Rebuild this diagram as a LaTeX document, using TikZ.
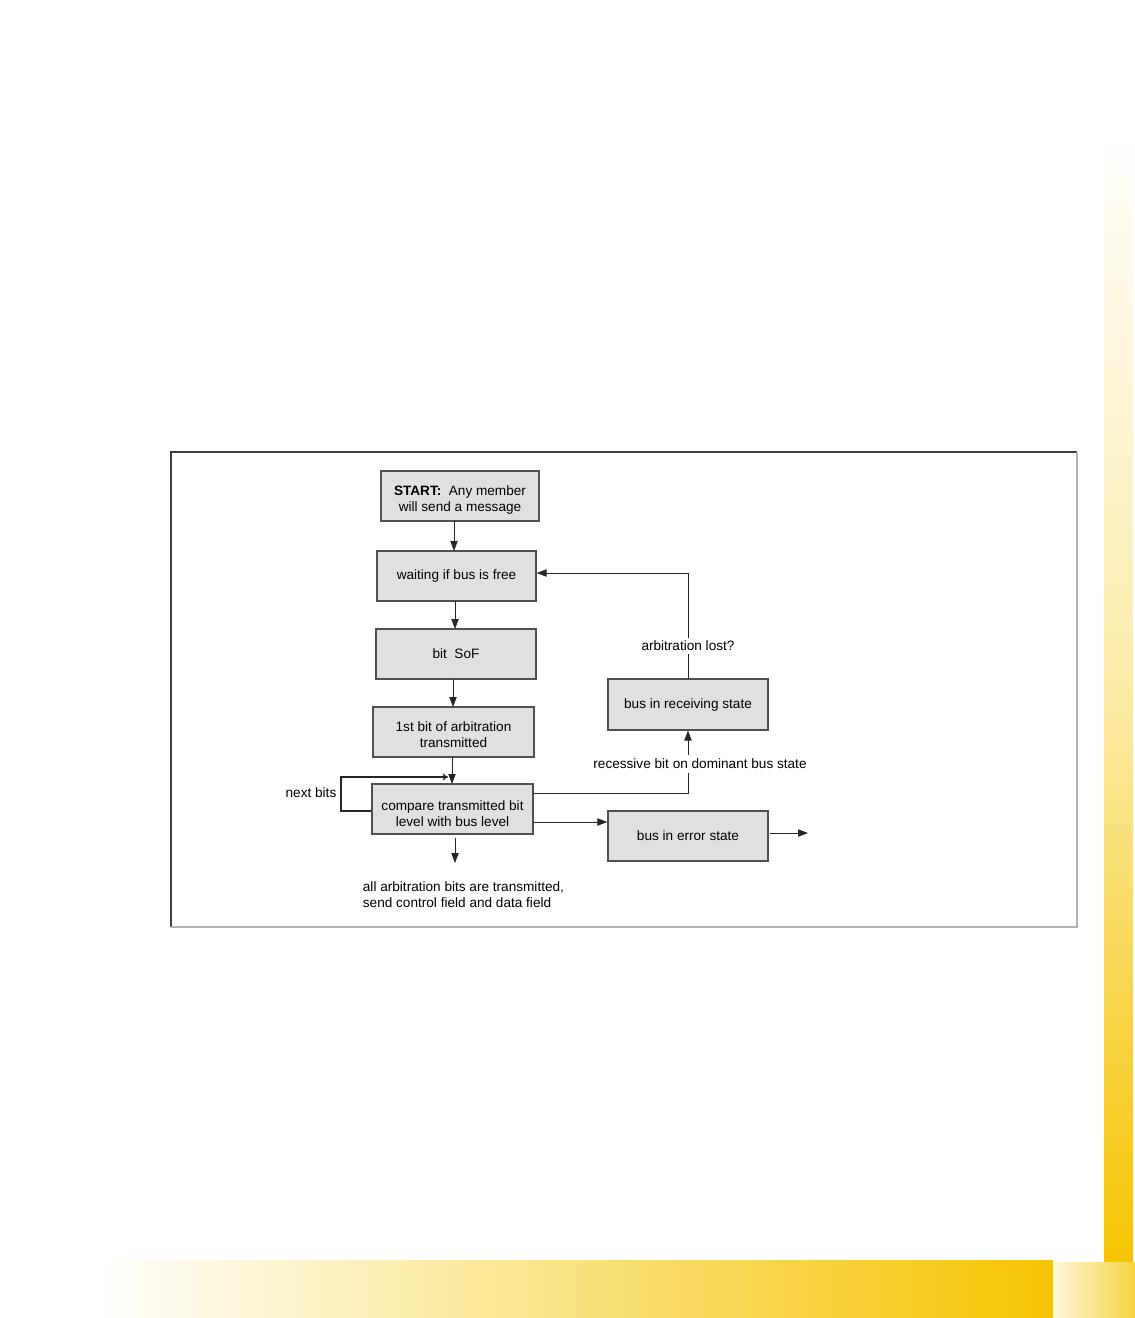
\documentclass[tikz,border=0pt]{standalone}
\usepackage{fontspec}
\setmainfont{Liberation Sans}
\usetikzlibrary{arrows.meta}
\definecolor{boxfill}{HTML}{E0E0E0}
\definecolor{boxline}{HTML}{505050}
\definecolor{ygold}{HTML}{F5C400}
\begin{document}
\begin{tikzpicture}[x=0.75pt,y=-0.75pt,
  box/.style={draw=boxline,line width=0.9pt,fill=boxfill,inner sep=0pt,align=center,font=\fontsize{10.2}{12}\selectfont},
  lbl/.style={inner sep=2pt,font=\fontsize{10.2}{12}\selectfont},
  conn/.style={draw=black!85,line width=0.6pt},
  arr/.style={conn,-{Triangle[length=7.5pt,width=5.5pt]}}]
\useasboundingbox (0,0) rectangle (1135,1318);
% decorative bars
\shade[top color=white,bottom color=ygold,middle color=ygold!35] (1104,130) rectangle (1133,1262);
\shade[left color=white,right color=ygold] (100,1260) rectangle (1053,1318);
\fill[white] (0,1260) rectangle (100,1318);
\shade[left color=ygold!15,right color=ygold!75] (1053,1262) rectangle (1135,1318);
% frame
\draw[black!75,line width=0.8pt] (171,927) -- (171,452) -- (1077,452);
\draw[black!30,line width=0.8pt] (1077,452) -- (1077,927) -- (171,927);
% boxes
\node[box,minimum width=158*0.75pt,minimum height=50*0.75pt] (start) at (460,496) {\rule{0pt}{13pt}\textbf{START:}\ \ Any member\\will send a message};
\node[box,minimum width=159*0.75pt,minimum height=50*0.75pt] (wait) at (456.5,576) {waiting if bus is free};
\node[box,minimum width=160*0.75pt,minimum height=50*0.75pt] (sof) at (456,654) {bit\ \ SoF};
\node[box,minimum width=161*0.75pt,minimum height=50*0.75pt] (first) at (453.5,732) {\rule{0pt}{12pt}1st bit of arbitration\\transmitted};
\node[box,minimum width=161*0.75pt,minimum height=50*0.75pt] (cmp) at (452.5,809) {\rule{0pt}{14pt}compare transmitted bit\\level with bus level};
\node[box,minimum width=160*0.75pt,minimum height=51*0.75pt] (recv) at (688,704.5) {bus in receiving state};
\node[box,minimum width=160*0.75pt,minimum height=50*0.75pt] (err) at (688,836) {bus in error state};
% labels
\node[lbl] (lost) at (688,646) {arbitration lost?};
\node[lbl] (rec) at (700,764) {recessive bit on dominant bus state};
\node[lbl] (next) at (311,793) {next bits};
\node[lbl,align=left,anchor=north west] (all) at (360,879) {all arbitration bits are transmitted,\\send control field and data field};
\coordinate (errout) at (808,833);
\coordinate (cmpout) at (455,863);
\coordinate (recbot) at (688,773);
\coordinate (rectop) at (688,755);
% connectors
\draw[arr] (454,521) -- (454,551);
\draw[arr] (455,601) -- (455,629);
\draw[arr] (453,679) -- (453,707);
\draw[arr] (452,757) -- (452,784);
\draw[conn,line width=1pt,-{To[length=4pt,width=5pt]}] (cmp.west |- 0,811) -- (341,811) -- (341,777) -- (448,777);
\draw[conn] (cmp.east |- 0,793) -- (688,793) -- (recbot);
\draw[arr] (rectop) -- (recv.south);
\draw[conn] (recv.north) -- (lost.south);
\draw[arr] (lost.north) -- (688,573) -- (wait.east |- 0,573);
\draw[arr] (cmp.east |- 0,822) -- (err.west |- 0,822);
\draw[arr] (770,833) -- (errout);
\draw[arr] (455,838) -- (cmpout);
\end{tikzpicture}
\end{document}
